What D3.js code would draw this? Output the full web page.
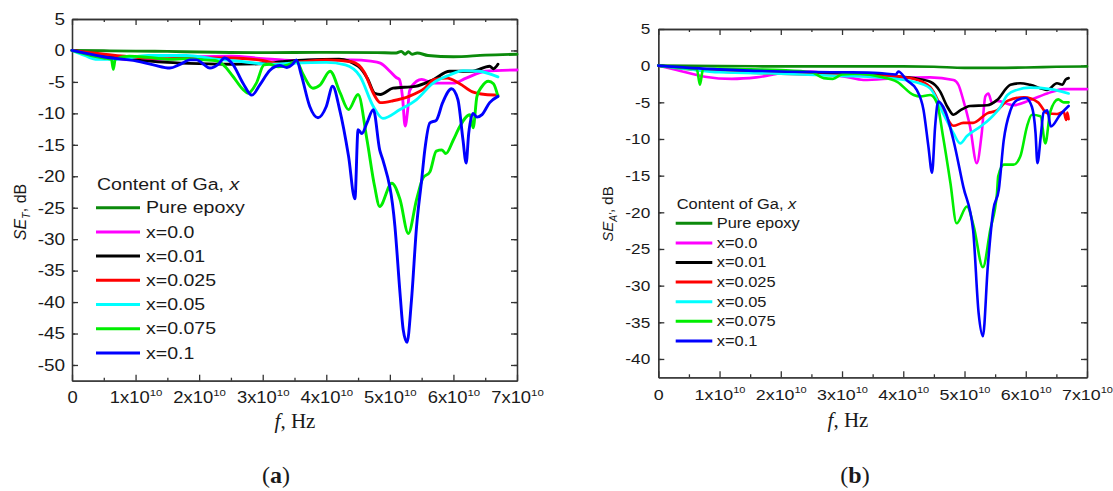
<!DOCTYPE html>
<html>
<head>
<meta charset="utf-8">
<script src="https://cdn.jsdelivr.net/npm/d3@7"></script>
<style>
  body { margin: 0; background: #fff; }
  svg text { font-family: "Liberation Sans", Arial, sans-serif; fill: #1a1a1a; }
  .serif { font-family: "Liberation Serif", "Times New Roman", serif; }
</style>
</head>
<body>
<svg id="chart" width="1113" height="491"></svg>
<script>
// Legend entries and colours
const seriesNames  = ["Pure epoxy", "x=0.0", "x=0.01", "x=0.025", "x=0.05", "x=0.075", "x=0.1"];
const seriesColors = ["#0b8a0b", "#ff00ff", "#000000", "#ff0000", "#00ffff", "#00ee00", "#0000ff"];

// Axis ticks (frequency ticks in units of 1e10 Hz)
const xMajorTicks = [0, 1, 2, 3, 4, 5, 6, 7];
const xMinorTicks = [0.5, 1.5, 2.5, 3.5, 4.5, 5.5, 6.5];
const yMajorTicksA = [-50, -45, -40, -35, -30, -25, -20, -15, -10, -5, 0, 5];
const yMajorTicksB = [-40, -35, -30, -25, -20, -15, -10, -5, 0, 5];

// (a) total shielding effectiveness SE_T: [frequency, GHz ; dB]
const seA_epoxy = [[0,0],[5,-0.05],[10,-0.1],[15,-0.15],[20,-0.25],[30,-0.35],[40,-0.3],[48,-0.35],[51,-0.4],[51.8,-0.15],[52.4,-0.6],[52.9,-0.2],[53.5,-0.6],[54.3,-0.4],[56,-0.8],[60,-1.0],[65,-0.75],[70,-0.6]];
const seA_x0    = [[0,0],[3,-0.8],[6,-1.3],[10,-1.5],[15,-1.4],[20,-1.0],[25,-0.9],[30,-1.3],[35,-1.6],[40,-1.5],[44,-1.5],[47,-1.7],[48.5,-2.0],[50,-3.3],[51,-4.3],[51.5,-4.6],[52,-7.5],[52.4,-12.0],[52.8,-9.5],[53.1,-6.4],[54.2,-4.9],[55,-4.6],[56.8,-5.2],[60,-5.2],[62,-4.4],[65,-3.3],[70,-3.1]];
const seA_x001  = [[0,0],[5,-0.8],[10,-1.5],[15,-1.9],[20,-2.1],[25,-2.2],[30,-2.1],[33,-1.8],[37,-1.5],[42,-1.4],[45,-2.5],[46.5,-4.5],[47.6,-6.8],[48.5,-7.0],[50.5,-6.0],[54,-5.7],[56.8,-4.65],[59.4,-3.3],[63,-3.3],[65.7,-2.5],[66.3,-2.9],[67,-2.2]];
const seA_x0025 = [[0,0],[5,-0.6],[10,-1.1],[15,-1.3],[20,-1.2],[25,-1.2],[30,-1.6],[33,-2.2],[36,-1.8],[40,-1.5],[44,-1.8],[46,-3.5],[47.5,-7.0],[48.5,-8.3],[50.5,-8.0],[53,-7.3],[55.5,-6.0],[57,-4.6],[59,-4.4],[61,-5.3],[63,-6.6],[65,-7.0],[67,-7.1]];
const seA_x005  = [[0,0],[2,-0.8],[4,-1.4],[7,-1.4],[12,-0.8],[18,-0.8],[22,-1.3],[27,-1.8],[31,-2.2],[35,-2.0],[40,-1.9],[43,-2.3],[45.3,-4.1],[47.4,-8.9],[48.9,-10.8],[51.6,-9.4],[54.2,-7.8],[56.8,-5.2],[59.4,-3.9],[61.5,-3.2],[64,-3.3],[67,-4.2]];
const seA_x0075 = [[0,0],[3,-0.8],[5,-1.2],[6.2,-1.4],[6.5,-3.0],[6.8,-1.4],[9,-0.9],[12,-1.1],[15.4,-1.4],[18,-1.3],[20.7,-1.5],[22.5,-1.6],[23.8,-2.3],[25.3,-4.1],[26.9,-6.2],[27.7,-6.8],[29,-5.2],[30.2,-2.3],[31,-2.2],[32.5,-2.6],[34,-2.3],[35.3,-1.7],[36.3,-3.7],[37.9,-6.0],[39,-5.5],[40.6,-3.3],[42.2,-6.8],[43.5,-9.4],[45,-7.0],[46.4,-14.2],[47.6,-21.6],[48.4,-24.8],[50.3,-21.1],[51.6,-23.7],[52.9,-29.1],[54.2,-23.7],[55.2,-20.3],[56.3,-19.3],[57.3,-16.0],[58.2,-15.8],[58.8,-16.4],[60,-14.2],[61,-12.1],[62.6,-10.2],[63.1,-12.3],[63.7,-7.3],[64.5,-5.7],[65.5,-4.9],[66.3,-5.3],[67,-7.3]];
const seA_x01   = [[0,0],[4.9,-1.0],[10.2,-1.7],[12.8,-2.3],[15.4,-2.8],[17,-2.2],[18.6,-1.5],[19.6,-1.5],[20.7,-2.2],[21.7,-2.8],[23,-2.2],[24,-1.2],[25.3,-2.2],[26.9,-5.2],[28.3,-7.1],[29.6,-5.4],[31.1,-3.2],[32.7,-2.4],[33.8,-2.7],[34.7,-2.2],[35.3,-1.5],[36.1,-4.0],[37.4,-8.9],[38.7,-10.7],[40,-8.9],[41,-5.7],[42.1,-9.4],[43.5,-16.8],[44.5,-23.6],[45,-12.6],[45.6,-13.2],[46.4,-11.5],[47.4,-9.4],[48.4,-15.8],[48.9,-17.4],[50.8,-28],[51.6,-38.6],[52.1,-44.4],[52.7,-46.4],[53.4,-39.7],[54.2,-28],[55,-20.6],[55.5,-15.8],[56.3,-11.5],[57.3,-11.1],[58.3,-8.3],[59.7,-6.1],[60.7,-7.8],[61.5,-14.2],[62,-17.9],[62.4,-13.2],[63.1,-10],[63.7,-10.6],[64.5,-10.2],[65.7,-8.3],[67,-7.3]];

// (b) absorption shielding effectiveness SE_A': [frequency, GHz ; dB]
const seB_epoxy = [[0,0],[10,-0.05],[20,-0.1],[30,-0.1],[40,-0.1],[45,-0.15],[50,-0.3],[55,-0.3],[60,-0.25],[65,-0.15],[70,-0.1]];
const seB_x0    = [[0,0],[3,-0.6],[7.6,-1.5],[12,-1.8],[16,-1.6],[21.2,-0.9],[25,-0.8],[28,-1.2],[30.5,-1.5],[33.5,-1.95],[39,-1.7],[44.4,-1.6],[48.2,-1.95],[49,-2.6],[49.8,-4.7],[50.9,-8.3],[52,-13.3],[52.8,-9.3],[53.4,-4.2],[53.9,-3.8],[54.5,-5.1],[55.3,-4.8],[58,-5.4],[60.7,-4.7],[63.5,-3.8],[66.2,-3.2],[70,-3.2]];
const seB_x001  = [[0,0],[5,-0.4],[10,-0.6],[15,-0.8],[20,-1.0],[25,-1.1],[30,-1.2],[36.2,-1.3],[41.7,-1.7],[44.4,-2.2],[46,-3.5],[47.2,-5.6],[48.2,-6.7],[49.3,-6.1],[50.9,-5.5],[53.7,-5.4],[55.3,-4.7],[57.5,-2.6],[59.1,-2.4],[60.7,-2.6],[63.5,-3.3],[65.1,-2.4],[66,-2.6],[66.5,-1.9],[67,-1.7]];
const seB_x0025 = [[0,0],[5,-0.5],[10,-0.8],[20,-1.1],[30,-1.3],[38,-1.4],[41.7,-1.8],[44.4,-2.9],[46.5,-6.1],[48.2,-8.2],[49.8,-7.8],[51.4,-7.8],[53.7,-6.5],[55.3,-6.1],[57,-4.8],[59.7,-4.3],[62,-5.0],[63.5,-6.5],[65.1,-6.6],[66.2,-6.3],[66.6,-7.4],[66.8,-6.4],[67,-7.3]];
const seB_x005  = [[0,0],[5,-0.5],[10,-0.9],[20,-1.1],[30,-1.4],[36,-1.6],[41.7,-2.2],[44.4,-3.1],[46.5,-6.5],[48.2,-9.2],[49.3,-10.6],[50.4,-9.6],[52.6,-8.3],[54.2,-7.2],[55.8,-5.7],[57,-4.0],[58.6,-3.3],[60.7,-3.0],[64,-3.2],[67,-3.8]];
const seB_x0075 = [[0,0],[4,-0.3],[6.3,-0.5],[6.8,-2.6],[7.3,-0.5],[10,-0.4],[15,-0.5],[20,-0.6],[25,-0.9],[27,-1.7],[28.5,-1.8],[30,-1.2],[33,-1.1],[36.2,-1.5],[39,-2.2],[41.7,-4.0],[42.8,-4.2],[44.4,-4.0],[45.5,-5.1],[46.5,-9.7],[47.7,-16],[48.7,-21.5],[50.4,-19.2],[51.5,-21.9],[53,-27.5],[54.2,-22.4],[55.3,-17.4],[55.5,-15.1],[56.4,-13.5],[58,-13.5],[59.1,-12.4],[60.2,-8.3],[61,-6.7],[62.4,-6.9],[63.2,-10.6],[64,-6.3],[65.3,-4.6],[66.2,-5.0],[67,-5.0]];
const seB_x01   = [[0,0],[5,-0.3],[10,-0.5],[20,-0.8],[30,-0.9],[36,-1.0],[38.8,-1.2],[39.2,-0.8],[40.6,-2.0],[42.2,-3.3],[43.3,-6.0],[44.1,-11],[44.7,-14.6],[45.2,-8.3],[45.7,-4.9],[46.8,-6.1],[48.2,-10.2],[49.8,-16.5],[51.4,-22.4],[52.3,-33.7],[53,-36.9],[53.8,-27.4],[54.7,-19.7],[55.6,-16.9],[56.4,-10.2],[57.5,-6.1],[58.6,-4.7],[60,-4.4],[61,-5.6],[61.6,-9.2],[61.9,-13.3],[62.5,-9.2],[62.9,-6.4],[63.5,-6.1],[64.1,-8.3],[65.6,-6.7],[67,-5.5]];

const seriesA = [seA_epoxy, seA_x0, seA_x001, seA_x0025, seA_x005, seA_x0075, seA_x01];
const seriesB = [seB_epoxy, seB_x0, seB_x001, seB_x0025, seB_x005, seB_x0075, seB_x01];

const svg = d3.select("#chart");
svg.append("rect").attr("width", 1113).attr("height", 491).attr("fill", "#fff");

const STRETCH = 1.15; // labels are set slightly wide

function drawPanel(p) {
  const x = d3.scaleLinear().domain([0, 7e10]).range([p.left, p.right]);
  const y = d3.scaleLinear().domain([p.yMin, 5]).range([p.bottom, p.top]);
  const g = svg.append("g");

  const yMinor = d3.range(p.yMin + 2.5, 5, 5).filter(v => v > p.yMin);
  const frame = "#333";

  function style(sel) {
    sel.selectAll("path.domain").attr("stroke", frame).attr("stroke-width", 1.3);
    sel.selectAll(".tick line").attr("stroke", frame).attr("stroke-width", 1.3);
  }

  // minor ticks on all four sides
  const minorSpecs = [
    [d3.axisBottom(x).tickValues(xMinorTicks.map(v => v * 1e10)), `translate(0,${p.bottom})`],
    [d3.axisTop(x).tickValues(xMinorTicks.map(v => v * 1e10)), `translate(0,${p.top})`],
    [d3.axisLeft(y).tickValues(yMinor), `translate(${p.left},0)`],
    [d3.axisRight(y).tickValues(yMinor), `translate(${p.right},0)`]
  ];
  minorSpecs.forEach(([ax, tr]) => {
    g.append("g").attr("transform", tr)
      .call(ax.tickSize(-3).tickSizeOuter(0).tickFormat(""))
      .call(style);
  });

  // major ticks, frame and labels
  const xb = g.append("g").attr("transform", `translate(0,${p.bottom})`)
    .call(d3.axisBottom(x).tickValues(xMajorTicks.map(v => v * 1e10))
      .tickSize(-6).tickSizeOuter(0).tickFormat(""))
    .call(style);
  g.append("g").attr("transform", `translate(0,${p.top})`)
    .call(d3.axisTop(x).tickValues(xMajorTicks.map(v => v * 1e10))
      .tickSize(-6).tickSizeOuter(0).tickFormat(""))
    .call(style);
  const yl = g.append("g").attr("transform", `translate(${p.left},0)`)
    .call(d3.axisLeft(y).tickValues(p.yTicks).tickSize(-6).tickSizeOuter(0)
      .tickPadding(p.yPad).tickFormat(d => String(d)))
    .call(style);
  g.append("g").attr("transform", `translate(${p.right},0)`)
    .call(d3.axisRight(y).tickValues(p.yTicks).tickSize(-6).tickSizeOuter(0).tickFormat(""))
    .call(style);

  yl.selectAll(".tick text")
    .attr("font-size", p.yFont)
    .attr("font-family", "Liberation Sans, Arial, sans-serif")
    .attr("fill", "#1a1a1a")
    .attr("transform", `scale(${STRETCH},1)`);

  // frequency labels like 1x10^10
  xb.selectAll(".tick").each(function(d) {
    const k = Math.round(d / 1e10);
    const t = d3.select(this).append("text")
      .attr("y", p.xLabelOffset)
      .attr("text-anchor", "middle")
      .attr("font-size", p.xFont)
      .attr("transform", `scale(${STRETCH},1)`);
    if (k === 0) {
      t.text("0");
    } else {
      t.append("tspan").text(`${k}x10`);
      t.append("tspan").attr("font-size", p.xFont * 0.62).attr("dy", -p.xFont * 0.45).text("10");
    }
  });

  // curves
  const line = d3.line()
    .x(d => x(d[0] * 1e9))
    .y(d => y(d[1]))
    .curve(d3.curveMonotoneX);
  p.series.forEach((s, i) => {
    g.append("path")
      .datum(s)
      .attr("fill", "none")
      .attr("stroke", seriesColors[i])
      .attr("stroke-width", p.lineWidth)
      .attr("stroke-linejoin", "round")
      .attr("stroke-linecap", "round")
      .attr("d", line);
  });

  // legend
  const lg = g.append("g");
  const title = lg.append("text")
    .attr("transform", `translate(${p.legend.titleX},${p.legend.titleY}) scale(${STRETCH},1)`)
    .attr("font-size", p.legend.font);
  title.append("tspan").text("Content of Ga, ");
  title.append("tspan").attr("font-style", "italic").text("x");
  seriesNames.forEach((name, i) => {
    const yy = p.legend.y0 + i * p.legend.step;
    lg.append("line")
      .attr("x1", p.legend.lineX1).attr("x2", p.legend.lineX2)
      .attr("y1", yy).attr("y2", yy)
      .attr("stroke", seriesColors[i]).attr("stroke-width", 3);
    lg.append("text")
      .attr("transform", `translate(${p.legend.textX},${yy + p.legend.font * 0.34}) scale(${STRETCH},1)`)
      .attr("font-size", p.legend.font)
      .text(name);
  });

  // y axis title
  const yt = g.append("text")
    .attr("transform", `translate(${p.yTitleX},${p.yTitleY}) rotate(-90)`)
    .attr("text-anchor", "middle")
    .attr("font-size", p.yTitleFont);
  yt.append("tspan").attr("font-style", "italic").text("SE");
  yt.append("tspan").attr("font-style", "italic").attr("font-size", p.yTitleFont * 0.68)
    .attr("dy", p.yTitleFont * 0.28).text(p.yTitleSub);
  yt.append("tspan").attr("dy", -p.yTitleFont * 0.28).text(", dB");

  // x axis title
  const xt = g.append("text").attr("class", "serif")
    .attr("x", p.xTitleX).attr("y", p.xTitleY)
    .attr("text-anchor", "middle")
    .attr("font-size", 21);
  xt.append("tspan").attr("font-style", "italic").text("f");
  xt.append("tspan").text(", Hz");

  // panel letter
  const pl = g.append("text").attr("class", "serif")
    .attr("x", p.letterX).attr("y", 483)
    .attr("text-anchor", "middle")
    .attr("font-size", 24);
  pl.append("tspan").text("(");
  pl.append("tspan").attr("font-weight", "bold").text(p.letter);
  pl.append("tspan").text(")");
}

drawPanel({
  left: 72, right: 517, top: 19, bottom: 380.7, yMin: -52.5,
  yTicks: yMajorTicksA, yPad: 6, yFont: 16.5, xFont: 16, xLabelOffset: 22.5,
  series: seriesA, lineWidth: 2.9,
  legend: { titleX: 97, titleY: 190, font: 17, y0: 207.7, step: 24.2, lineX1: 96, lineX2: 140, textX: 146 },
  yTitleX: 26, yTitleY: 212, yTitleFont: 16, yTitleSub: "T",
  xTitleX: 295, xTitleY: 428, letterX: 276, letter: "a"
});

drawPanel({
  left: 658.3, right: 1087, top: 29, bottom: 377.3, yMin: -42.5,
  yTicks: yMajorTicksB, yPad: 7, yFont: 15, xFont: 15.5, xLabelOffset: 22.5,
  series: seriesB, lineWidth: 2.6,
  legend: { titleX: 676.7, titleY: 209, font: 14.3, y0: 223.3, step: 19.6, lineX1: 675.7, lineX2: 712.3, textX: 716.7 },
  yTitleX: 613, yTitleY: 214, yTitleFont: 15, yTitleSub: "A'",
  xTitleX: 848, xTitleY: 427, letterX: 855, letter: "b"
});
</script>
</body>
</html>
